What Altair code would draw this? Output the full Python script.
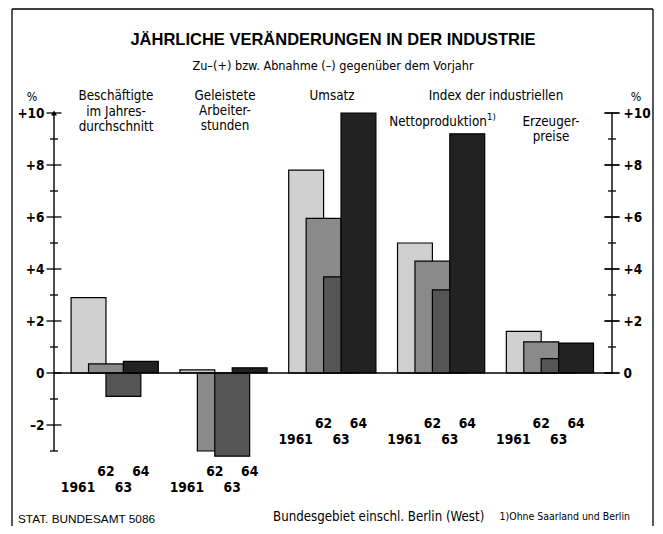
import glob
import altair as alt
import pandas as pd

# ---------------- data ----------------
groups = ["Beschäftigte im Jahresdurchschnitt", "Geleistete Arbeiterstunden",
          "Umsatz", "Nettoproduktion", "Erzeugerpreise"]
years = ["1961", "62", "63", "64"]
v1961 = [2.9, 0.12, 7.8, 5.0, 1.6]
v1962 = [0.35, -3.0, 5.95, 4.3, 1.2]
v1963 = [-0.9, -3.2, 3.7, 3.2, 0.55]
v1964 = [0.45, 0.2, 10.0, 9.2, 1.15]
series = [v1961, v1962, v1963, v1964]

left_major = [-2, 0, 2, 4, 6, 8, 10]
left_minor = [-3, -1, 1, 3, 5, 7, 9]
right_major = [0, 2, 4, 6, 8, 10]
right_minor = [1, 3, 5, 7, 9]

# ---------------- styling / layout ----------------
fills = ["#d0d0d0", "#8a8a8a", "#555555", "#222222"]


def has_font(pat):
    return bool(glob.glob(f"/usr/share/fonts/**/{pat}", recursive=True)
                or glob.glob(f"/usr/local/share/fonts/**/{pat}", recursive=True))


if has_font("LiberationSansNarrow*"):
    LF, SC = "Liberation Sans Narrow", 1.18
elif has_font("DejaVuSansCondensed*"):
    LF, SC = "DejaVu Sans Condensed", 0.95
else:
    LF, SC = "Liberation Sans", 1.0
TF = "Liberation Sans"

W, H = 558, 338
X0, GSTEP, KSTEP = 0.49, 3.12, 0.5

rows = []
for gi, g in enumerate(groups):
    for k, y in enumerate(years):
        rows.append({"group": g, "gi": gi, "year": y, "k": k, "value": series[k][gi]})
df = pd.DataFrame(rows)

xs = alt.Scale(domain=[0, 16], nice=False, zero=False)
ys = alt.Scale(domain=[-3, 10], nice=False, zero=False)

lbl_expr = "datum.value > 0 ? '+' + datum.value : (datum.value < 0 ? '–' + abs(datum.value) : '0')"

left_axis = alt.Axis(values=left_major, labelExpr=lbl_expr, ticks=False, domain=False,
                     grid=False, title=None, labelPadding=10, labelFont=LF, orient="left",
                     labelFontSize=13.5, labelFontWeight="bold", labelColor="black")
right_axis = alt.Axis(values=right_major, labelExpr=lbl_expr, ticks=False, domain=False,
                      grid=False, title=None, labelPadding=11, labelFont=LF, orient="right",
                      labelFontSize=13.5, labelFontWeight="bold", labelColor="black")

xpos = f"{X0} + datum.gi * {GSTEP} + datum.k * {KSTEP}"
base = alt.Chart(df).transform_calculate(xa=xpos, xb=f"{xpos} + 1", zero="0")

bars = base.mark_bar(stroke="black", strokeWidth=1.2).encode(
    x=alt.X("xa:Q", scale=xs, axis=None),
    x2="xb:Q",
    y=alt.Y("value:Q", scale=ys, axis=left_axis),
    y2="zero:Q",
    color=alt.Color("year:N", scale=alt.Scale(domain=years, range=fills), legend=None),
    order=alt.Order("k:Q"),
)

year_labels = base.transform_calculate(
    lx=f"{xpos} + 0.5 + (datum.k == 0 ? -0.3 : 0)",
    ly="(datum.gi < 2 ? -3.8 : -1.95) - (datum.k % 2 == 0 ? 0.63 : 0)",
).mark_text(font=LF, fontSize=14.5 * SC, fontWeight="bold", color="black",
            baseline="middle").encode(
    x=alt.X("lx:Q", scale=xs, axis=None),
    y=alt.Y("ly:Q", scale=ys, axis=left_axis),
    text="year:N",
)

# axis lines and zero line
lines = pd.DataFrame({"xa": [0, 16, 0], "xb": [0, 16, 16],
                      "ya": [-3, 0, 0], "yb": [10, 10, 0]})
axis_lines = alt.Chart(lines).mark_rule(color="black", strokeWidth=1.4).encode(
    x=alt.X("xa:Q", scale=xs, axis=None), x2="xb:Q",
    y=alt.Y("ya:Q", scale=ys, axis=left_axis), y2="yb:Q")

ticks = pd.DataFrame(
    [{"v": v, "side": 0, "kind": "major"} for v in left_major]
    + [{"v": v, "side": 0, "kind": "minor"} for v in left_minor]
    + [{"v": v, "side": 16, "kind": "major"} for v in right_major]
    + [{"v": v, "side": 16, "kind": "minor"} for v in right_minor])

major_ticks = alt.Chart(ticks).transform_filter("datum.kind == 'major'").mark_tick(
    orient="horizontal", size=15, thickness=1.3, color="black", opacity=1).encode(
    x=alt.X("side:Q", scale=xs, axis=None), y=alt.Y("v:Q", scale=ys, axis=left_axis))
minor_ticks = alt.Chart(ticks).transform_filter("datum.kind == 'minor'").mark_tick(
    orient="horizontal", size=8, thickness=1.3, color="black", opacity=1).encode(
    x=alt.X("side:Q", scale=xs, axis=None), y=alt.Y("v:Q", scale=ys, axis=left_axis))

arrow = alt.Chart(pd.DataFrame({"x": [0], "y": [10]})).mark_point(
    shape="triangle-up", filled=True, size=35, color="black", opacity=1).encode(
    x=alt.X("x:Q", scale=xs, axis=None), y=alt.Y("y:Q", scale=ys, axis=left_axis))

one = pd.DataFrame({"d": [0]})


def txt(s, x, y, size=14, weight="normal", align="center", font=None):
    return alt.Chart(one).mark_text(
        text=s, fontSize=size, fontWeight=weight, align=align, baseline="middle",
        font=font or LF, color="black").encode(x=alt.value(x), y=alt.value(y))


def frule(x1, y1, x2, y2):
    return alt.Chart(one).mark_rule(color="black", strokeWidth=1.3).encode(
        x=alt.value(x1), x2=alt.value(x2), y=alt.value(y1), y2=alt.value(y2))


texts = [
    txt("JÄHRLICHE VERÄNDERUNGEN IN DER INDUSTRIE", 279, -73, 16.5, "bold", font=TF),
    txt("Zu–(+) bzw. Abnahme (–) gegenüber dem Vorjahr", 279, -47, 12.6),
    txt("%", -22, -16, 13 * SC),
    txt("%", 582, -16, 13 * SC),
    txt("Beschäftigte", 62, -17, 14 * SC),
    txt("im Jahres-", 62, -1, 14 * SC),
    txt("durchschnitt", 62, 14, 14 * SC),
    txt("Geleistete", 171, -17, 14 * SC),
    txt("Arbeiter-", 171, -2, 14 * SC),
    txt("stunden", 171, 13, 14 * SC),
    txt("Umsatz", 278, -17, 14 * SC),
    txt("Index der industriellen", 442, -17, 14 * SC),
    txt("Nettoproduktion", 384, 9, 14 * SC),
    txt("1)", 433, 4, 10 * SC, align="left"),
    txt("Erzeuger-", 497, 9, 14 * SC),
    txt("preise", 497, 24, 14 * SC),
    txt("STAT. BUNDESAMT 5086", -36, 406, 11.8, font=TF, align="left"),
    txt("Bundesgebiet einschl. Berlin (West)", 219, 404, 13.2, align="left"),
    txt("1)Ohne Saarland und Berlin", 576, 404, 11 * SC, align="right"),
]

frame = [
    frule(-42, -104, 599, -104),
    frule(-42, -104, -42, 430),
    frule(599, -104, 599, 430),
]

left_layer = alt.layer(bars, axis_lines, major_ticks, minor_ticks, arrow, year_labels,
                       *texts, *frame)
right_layer = alt.Chart(pd.DataFrame({"v": right_major, "side": [16] * len(right_major)})).mark_tick(
    orient="horizontal", size=15, thickness=1.3, color="black", opacity=1).encode(
    x=alt.X("side:Q", scale=xs, axis=None),
    y=alt.Y("v:Q", scale=ys, axis=right_axis))

chart = alt.layer(left_layer, right_layer).resolve_scale(y="independent").properties(
    width=W, height=H,
    autosize=alt.AutoSizeParams(type="none"),
    padding={"left": 46, "top": 105, "right": 43, "bottom": 75},
    background="white",
).configure_view(stroke=None)

chart.save("out.html", embed_options={"renderer": "svg", "actions": False})
